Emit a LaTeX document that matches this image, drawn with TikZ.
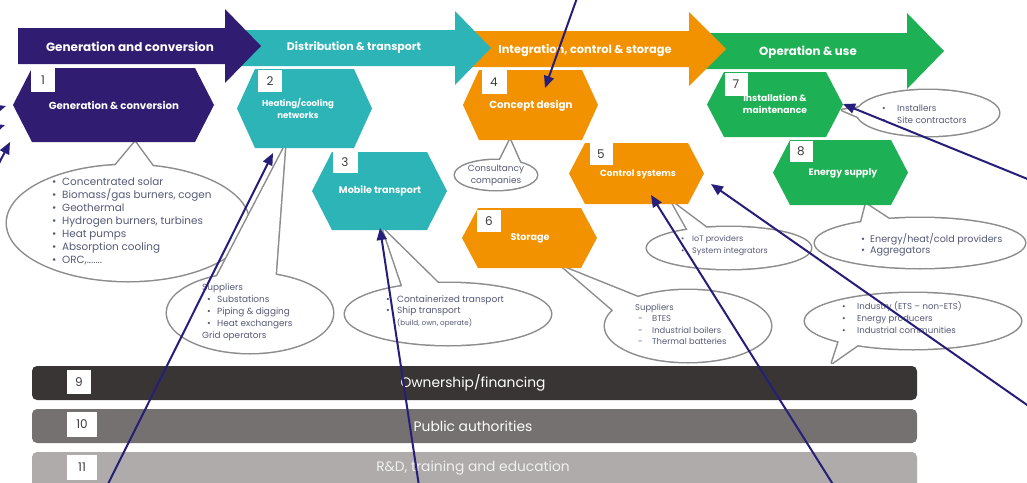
\documentclass[tikz,border=0pt]{standalone}
\usepackage{fontspec}
\setmainfont{Poppins}
\usetikzlibrary{arrows.meta}
\definecolor{cpurple}{RGB}{48,28,112}
\definecolor{cteal}{RGB}{45,180,182}
\definecolor{corange}{RGB}{243,146,0}
\definecolor{cgreen}{RGB}{30,176,84}
\definecolor{cnavy}{RGB}{38,30,120}
\definecolor{cbubble}{RGB}{140,140,140}
\definecolor{ctext}{RGB}{85,90,118}
\definecolor{cbarA}{RGB}{58,53,53}
\definecolor{cbarB}{RGB}{118,113,113}
\definecolor{cbarC}{RGB}{176,171,171}
\definecolor{cnum}{RGB}{60,60,60}
% hexagon: xl xr yt yb d colour
\newcommand\hexfill[6]{%
  \fill[#6] (#1,{(#3+#4)/2}) -- (#1+#5,#3) -- (#2-#5,#3) -- (#2,{(#3+#4)/2})
    -- (#2-#5,#4) -- (#1+#5,#4) -- cycle;}
% bubble: centre, rx, ry, tail path
\newcommand\bubble[4]{%
  \draw[cbubble, line width=3pt] #1 ellipse [x radius=#2pt, y radius=#3pt];
  \draw[cbubble, line width=3pt, line join=round] #4 -- cycle;
  \fill[white] #1 ellipse [x radius=#2pt, y radius=#3pt];
  \fill[white] #4 -- cycle;}
\newcommand\bul[1]{\makebox[#1][l]{\textbullet}}
\newcommand\dsh[1]{\makebox[#1][l]{-}}
\begin{document}
\begin{tikzpicture}[x=1pt,y=-1pt,
  bannertext/.style={text=white, inner sep=0, font=\fontsize{11}{13}\selectfont\bfseries},
  hextext/.style={text=white, inner sep=0, align=center, font=\fontsize{9}{12}\selectfont\bfseries},
  numbox/.style={fill=white, inner sep=0, text=cnum, font=\fontsize{12}{14}\selectfont},
  bultext/.style={text=ctext, inner sep=0, align=left, anchor=north west},
  barlabel/.style={text=white, inner sep=0, font=\fontsize{13.8}{16}\selectfont},
  navyarrow/.style={cnavy, line width=2pt, -{Triangle[length=12pt,width=10pt]}},
]
\useasboundingbox (0,0) rectangle (1027,482);
\fill[white] (0,0) rectangle (1027,482);

% ---------- speech bubbles ----------
\bubble{(128,223)}{121}{58}{(110,172) -- (135,142) -- (157,172)}
\bubble{(250,313)}{83}{40}{(212,286) -- (285,146) -- (275,282)}
\bubble{(448,314)}{103}{31}{(405,294) -- (383,229) -- (445,290)}
\bubble{(496,175)}{41}{15}{(497,166) -- (510,140) -- (522,167)}
\bubble{(688,326)}{83}{36}{(620,316) -- (563,267) -- (645,300)}
\bubble{(729,248)}{82}{21}{(690,234) -- (672,202) -- (712,232)}
\bubble{(928,113)}{71}{23}{(870,106) -- (842,110) -- (870,122)}
\bubble{(920,243)}{105}{25}{(860,227) -- (866,204) -- (895,223)}
\bubble{(913,321)}{108}{28}{(840,338) -- (832,363) -- (862,342)}

% ---------- top banners ----------
\fill[cgreen]  (700,33) -- (907,33) -- (907,13) -- (944,51) -- (907,89) -- (907,69) -- (700,69) -- cycle;
\fill[corange] (470,31) -- (689,31) -- (689,12) -- (726,49) -- (689,86) -- (689,67) -- (470,67) -- cycle;
\fill[cteal]   (240,30) -- (455,30) -- (455,11) -- (491,48) -- (455,85) -- (455,66) -- (240,66) -- cycle;
\fill[cpurple] (18,28) -- (225,28) -- (225,9) -- (261,46) -- (225,83) -- (225,64) -- (18,64) -- cycle;
\node[bannertext, font=\fontsize{12}{14}\selectfont\bfseries] (p1) at (130,47) {Generation and conversion};
\node[bannertext] (p2) at (354,48) {Distribution \& transport};
\node[bannertext, font=\fontsize{11.4}{14}\selectfont\bfseries] (p3) at (585,50) {Integration, control \& storage};
\node[bannertext, font=\fontsize{11.8}{14}\selectfont\bfseries] (p4) at (808,52) {Operation \& use};

% ---------- hexagons ----------
\hexfill{13}{214}{68}{142}{19}{cpurple}
\hexfill{237}{372}{69}{148}{18}{cteal}
\hexfill{312}{447}{152}{230}{20}{cteal}
\hexfill{463}{598}{70}{140}{16}{corange}
\hexfill{569}{704}{143}{204}{16}{corange}
\hexfill{462}{597}{208}{268}{16}{corange}
\hexfill{707}{843}{72}{137}{17}{cgreen}
\hexfill{773}{908}{140}{205}{17}{cgreen}

\node[hextext, font=\fontsize{10.2}{12}\selectfont\bfseries] (h1) at (114,105) {Generation \& conversion};
\node[hextext, font=\fontsize{8.6}{12}\selectfont\bfseries] (h2) at (298,108) {Heating/cooling\\networks};
\node[hextext, font=\fontsize{9.6}{12}\selectfont\bfseries] (h3) at (380,191) {Mobile transport};
\node[hextext, font=\fontsize{10.3}{12}\selectfont\bfseries] (h4) at (531,106) {Concept design};
\node[hextext] (h5) at (638,174) {Control systems};
\node[hextext, font=\fontsize{9.6}{12}\selectfont\bfseries] (h6) at (530,238) {Storage};
\node[hextext, font=\fontsize{9.2}{12.5}\selectfont\bfseries] (h7) at (775,104) {Installation \&\\maintenance};
\node[hextext, font=\fontsize{9.4}{12}\selectfont\bfseries] (h8) at (843,173) {Energy supply};

\node[numbox, minimum width=24pt, minimum height=24pt] (n1) at (43,80) {1};
\node[numbox, minimum width=24pt, minimum height=22pt] (n2) at (270,81) {2};
\node[numbox, minimum width=25pt, minimum height=21pt] (n3) at (345,162) {3};
\node[numbox, minimum width=25pt, minimum height=24pt] (n4) at (494,82) {4};
\node[numbox, minimum width=23pt, minimum height=22pt] (n5) at (601,154) {5};
\node[numbox, minimum width=24pt, minimum height=22pt] (n6) at (489,221) {6};
\node[numbox, minimum width=23pt, minimum height=23pt] (n7) at (736,84) {7};
\node[numbox, minimum width=23pt, minimum height=21pt] (n8) at (801,151) {8};

% ---------- bubble texts ----------
\node[bultext, font=\fontsize{10.4}{13}\selectfont] (b1) at (52,178) {%
\bul{10pt}Concentrated solar\\ \bul{10pt}Biomass/gas burners, cogen\\ \bul{10pt}Geothermal\\
\bul{10pt}Hydrogen burners, turbines\\ \bul{10pt}Heat pumps\\ \bul{10pt}Absorption cooling\\ \bul{10pt}ORC,.......};
\node[bultext, font=\fontsize{8.9}{11.8}\selectfont] (b2) at (202,284) {%
Suppliers\\ \hspace*{5pt}\bul{10pt}Substations\\ \hspace*{5pt}\bul{10pt}Piping \& digging\\
\hspace*{5pt}\bul{10pt}Heat exchangers\\ Grid operators};
\node[bultext, font=\fontsize{9}{11.5}\selectfont] (b3) at (386,295) {%
\bul{11pt}Containerized transport\\ \bul{11pt}Ship transport\\ \hspace*{11pt}{\fontsize{7.2}{8}\selectfont(build, own, operate)}};
\node[text=ctext, inner sep=0, align=center, font=\fontsize{8.9}{12.5}\selectfont] (b4) at (496,175.5) {Consultancy\\companies};
\node[bultext, font=\fontsize{8.4}{11.3}\selectfont] (b5) at (635,304) {%
Suppliers\\ \hspace*{3pt}\dsh{14pt}BTES\\ \hspace*{3pt}\dsh{14pt}Industrial boilers\\ \hspace*{3pt}\dsh{14pt}Thermal batteries};
\node[bultext, font=\fontsize{8}{12}\selectfont] (b6) at (681,235) {%
\bul{11pt}IoT providers\\ \bul{11pt}System integrators};
\node[bultext, font=\fontsize{8.8}{12}\selectfont] (b7) at (882,105) {%
\bul{15pt}Installers\\ \bul{15pt}Site contractors};
\node[bultext, font=\fontsize{9.6}{11.5}\selectfont] (b8) at (861,233) {%
\bul{9pt}Energy/heat/cold providers\\ \bul{9pt}Aggregators};
\node[bultext, font=\fontsize{8.6}{12}\selectfont] (b9) at (842,301) {%
\bul{15pt}Industry (ETS -- non-ETS)\\ \bul{15pt}Energy producers\\ \bul{15pt}Industrial communities};

% ---------- bottom bars ----------
\fill[cbarA, rounded corners=5pt] (32,366) rectangle (917,400);
\fill[cbarB, rounded corners=5pt] (32,409) rectangle (917,443);
\fill[cbarC, rounded corners=5pt] (32,452) rectangle (917,500);
\node[numbox, minimum width=24pt, minimum height=24pt] (n9) at (79,382) {9};
\node[numbox, minimum width=30pt, minimum height=25pt] (n10) at (82,424.5) {10};
\node[numbox, minimum width=30pt, minimum height=25pt] (n11) at (82,467.5) {11};
\node[barlabel] (r9) at (473,383) {Ownership/financing};
\node[barlabel] (r10) at (473,426) {Public authorities};
\node[barlabel, text=white!94!black] (r11) at (473,468) {R\&D, training and education};

% ---------- navy arrows ----------
\coordinate (a1s) at (577,-2);   \coordinate (a1t) at (545,88);
\coordinate (a2s) at (107,486);  \coordinate (a2t) at (273,153);
\coordinate (a3s) at (419,486);  \coordinate (a3t) at (380,228);
\coordinate (a4s) at (834,486);  \coordinate (a4t) at (651,195);
\coordinate (a5s) at (1030,407); \coordinate (a5t) at (711,184);
\coordinate (a6s) at (1030,180); \coordinate (a6t) at (843,104);
\coordinate (l1s) at (-40,120);  \coordinate (l1t) at (6,106);
\coordinate (l2s) at (-40,140);  \coordinate (l2t) at (5,125);
\coordinate (l3s) at (-20,200);  \coordinate (l3t) at (10,142);
\foreach \a in {a1,a2,a3,a4,a5,a6,l1,l2,l3}
  \draw[navyarrow] (\a s) -- (\a t);
\end{tikzpicture}
\end{document}
